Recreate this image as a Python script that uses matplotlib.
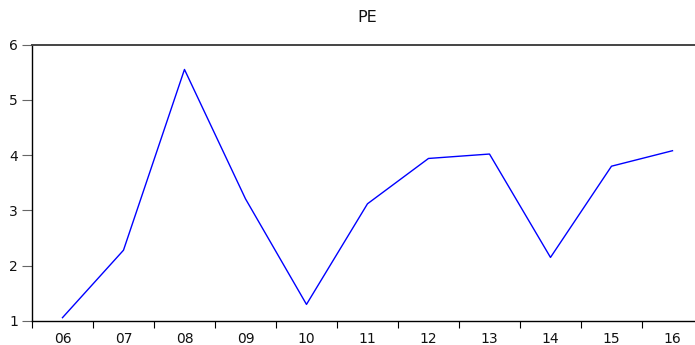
import matplotlib
matplotlib.use("Agg")
import matplotlib.pyplot as plt
import numpy as np
from matplotlib.ticker import FixedLocator

years = ["06", "07", "08", "09", "10", "11", "12", "13", "14", "15", "16"]
pe = [1.06, 2.28, 5.55, 3.21, 1.30, 3.12, 3.94, 4.02, 2.15, 3.80, 4.08]
y_ticks = [1, 2, 3, 4, 5, 6]

plt.rcParams["font.family"] = ["DejaVu Sans"]

fig = plt.figure(figsize=(6.95, 3.45), dpi=100)
ax = fig.add_axes([0.046, 0.0696, 0.9655, 0.8012])

x = np.arange(len(years))
ax.plot(x, pe, color="#0000ff", lw=1.0)

ax.set_xlim(-0.5, len(years) - 0.5)
ax.set_ylim(1, 6)

ax.set_xticks(x)
ax.set_xticklabels(years, fontsize=10, color="#111111")
ax.tick_params(axis="x", which="major", length=0, pad=8)
ax.xaxis.set_minor_locator(FixedLocator(np.arange(len(years) + 1) - 0.5))
ax.tick_params(axis="x", which="minor", length=5, width=0.8, color="black", direction="out")

ax.set_yticks(y_ticks)
ax.set_yticklabels([str(v) for v in y_ticks], fontsize=10, color="#111111")
ax.tick_params(axis="y", length=7, width=0.8, color="#666666", direction="out", pad=3)

ax.spines["right"].set_visible(False)
ax.spines["top"].set_color("#444444")
ax.spines["top"].set_linewidth(1.4)
ax.spines["left"].set_color("black")
ax.spines["left"].set_linewidth(1.0)
ax.spines["bottom"].set_color("black")
ax.spines["bottom"].set_linewidth(1.0)

fig.text(367 / 695, 1 - 17 / 345, "PE", ha="center", va="center", fontsize=11.5, color="#111111")

fig.savefig("out.png", dpi=100)
